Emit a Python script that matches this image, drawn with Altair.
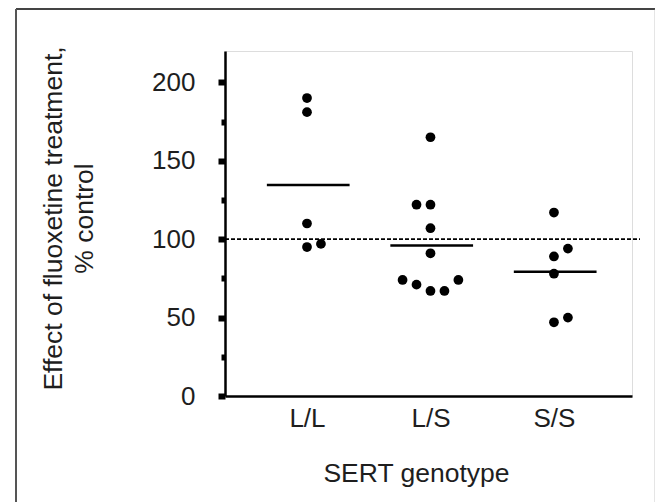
import json
import altair as alt
import pandas as pd

# ---- data ----
genotypes = ["L/L", "L/S", "S/S"]
ll_values = [190, 181, 110, 95, 97]
ll_cols = [0, 0, 0, 0, 1]
ls_values = [165, 122, 122, 107, 91, 74, 71, 67, 67, 74]
ls_cols = [0, -1, 0, 0, 0, -2, -1, 0, 1, 2]
ss_values = [117, 94, 89, 78, 47, 50]
ss_cols = [0, 1, 0, 0, 0, 1]
control_level = [100]
y_tick_values = [0, 25, 50, 75, 100, 125, 150, 175, 200]

rows = []
for i, (g, vals, cols) in enumerate(
    zip(genotypes, [ll_values, ls_values, ss_values], [ll_cols, ls_cols, ss_cols]), start=1
):
    for v, c in zip(vals, cols):
        rows.append({"genotype": g, "idx": i, "value": v, "col": c})
df = pd.DataFrame(rows)

W, H = 407, 345
FONT = "Liberation Sans"
TXT = "#1e1e1e"
DOT_STEP = 0.113

xscale = alt.Scale(domain=[0.336, 3.632], nice=False, zero=False)
yscale = alt.Scale(domain=[0, 220], nice=False, zero=True)

label_expr = json.dumps(genotypes) + "[datum.value - 1]"

x_axis = alt.Axis(
    values=[1, 2, 3],
    labelExpr=label_expr,
    ticks=False,
    grid=False,
    domainColor="black",
    domainWidth=2.5,
    labelFont=FONT,
    labelFontSize=26,
    labelColor=TXT,
    labelPadding=9,
    title="SERT genotype",
    titleFont=FONT,
    titleFontSize=26.5,
    titleFontWeight="normal",
    titleColor=TXT,
    titleBaseline="alphabetic",
    titleAlign="center",
    titleX=191,
    titleY=85,
)

y_axis = alt.Axis(
    values=y_tick_values,
    labelExpr="datum.value % 50 == 0 ? datum.label : ''",
    grid=False,
    domainColor="black",
    domainWidth=2.5,
    tickColor="black",
    tickWidth=6,
    tickSize=alt.condition("datum.value % 50 == 0", alt.value(7), alt.value(4)),
    labelFont=FONT,
    labelFontSize=26,
    labelColor=TXT,
    labelPadding=23,
    title=["Effect of fluoxetine treatment,", "% control"],
    titleFont=FONT,
    titleFontSize=26.5,
    titleFontWeight="normal",
    titleColor=TXT,
    titleLineHeight=31.5,
    titleAngle=270,
    titleBaseline="alphabetic",
    titleAlign="center",
    titleX=-164,
    titleY=167,
)

base = alt.Chart(df)

points = (
    base.transform_calculate(xpos=f"datum.idx + datum.col * {DOT_STEP}")
    .mark_circle(size=95, color="black", opacity=1)
    .encode(
        x=alt.X("xpos:Q", scale=xscale, axis=x_axis),
        y=alt.Y("value:Q", scale=yscale, axis=y_axis),
    )
)

means = (
    base.transform_aggregate(mean="mean(value)", groupby=["genotype", "idx"])
    .transform_calculate(x1="datum.idx - 0.325", x2="datum.idx + 0.345")
    .mark_rule(color="black", strokeWidth=2.5)
    .encode(
        x=alt.X("x1:Q", scale=xscale),
        x2="x2:Q",
        y=alt.Y("mean:Q", scale=yscale),
    )
)

ref = (
    alt.Chart(pd.DataFrame({"level": control_level}))
    .mark_rule(color="black", strokeWidth=1.8, strokeDash=[4, 2])
    .encode(y=alt.Y("level:Q", scale=yscale), x=alt.value(0), x2=alt.value(415))
)

frame_df = pd.DataFrame({"k": [0]})
frame_top = alt.Chart(frame_df).mark_rule(color="#444444", strokeWidth=2).encode(
    x=alt.value(-209), x2=alt.value(431), y=alt.value(-42)
)
frame_left = alt.Chart(frame_df).mark_rule(color="#555555", strokeWidth=2).encode(
    x=alt.value(-209), y=alt.value(-42), y2=alt.value(460)
)
frame_right = alt.Chart(frame_df).mark_rule(color="#999999", strokeWidth=2.5).encode(
    x=alt.value(431), y=alt.value(-42), y2=alt.value(460)
)

chart = (
    alt.layer(frame_top, frame_left, frame_right, ref, means, points)
    .properties(
        width=W,
        height=H,
        autosize=alt.AutoSizeParams(type="none"),
        padding={"left": 217, "top": 43, "right": 23, "bottom": 106},
    )
    .configure_view(stroke=None)
    .configure(background="white")
)

chart.save("out.html", embed_options={"renderer": "svg", "actions": False})
